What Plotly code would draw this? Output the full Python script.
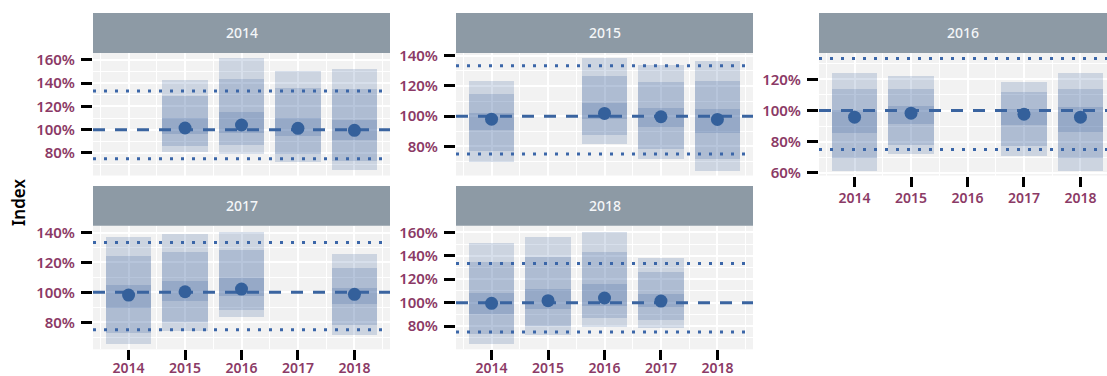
import plotly.graph_objects as go

W, H = 1107, 376

years = [2014, 2015, 2016, 2017, 2018]
facets = ["2014", "2015", "2016", "2017", "2018"]

# per facet, per year (None = the facet's own year, no estimate)
outer_lo = [
    [None, 80.6, 79.4, 72.0, 65.1],
    [69.9, None, 81.5, 71.6, 64.0],
    [61.0, 71.9, None, 70.6, 61.4],
    [65.7, 74.4, 83.7, None, 71.5],
    [64.7, 73.0, 79.5, 78.7, None],
]
outer_hi = [
    [None, 142.9, 161.7, 150.6, 152.3],
    [123.1, None, 138.2, 133.8, 136.3],
    [123.8, 121.9, None, 118.6, 123.8],
    [137.0, 139.0, 140.4, None, 125.6],
    [151.2, 156.0, 160.3, 138.1, None],
]
mid_lo = [
    [None, 86.3, 86.9, 79.4, 73.4],
    [77.1, None, 87.5, 78.2, 71.6],
    [69.4, 78.1, None, 77.3, 69.6],
    [72.8, 80.6, 88.6, None, 78.1],
    [73.3, 80.1, 87.5, 85.2, None],
]
mid_hi = [
    [None, 129.1, 144.0, 136.0, 135.1],
    [114.5, None, 126.4, 122.4, 123.1],
    [114.1, 113.5, None, 111.6, 114.1],
    [124.3, 127.2, 128.8, None, 116.3],
    [135.0, 139.0, 143.5, 126.5, None],
]
inner_lo = [
    [None, 96.6, 97.1, 94.3, 90.9],
    [90.8, None, 97.8, 92.7, 89.0],
    [85.4, 91.4, None, 90.4, 85.9],
    [89.7, 94.4, 98.0, None, 92.2],
    [90.3, 94.9, 97.7, 96.6, None],
]
inner_hi = [
    [None, 109.7, 115.4, 110.3, 108.6],
    [101.8, None, 108.8, 105.5, 104.4],
    [100.6, 102.6, None, 101.1, 102.1],
    [105.1, 107.8, 109.6, None, 103.1],
    [108.5, 111.9, 115.9, 107.4, None],
]
median = [
    [None, 101.4, 104.0, 101.1, 99.4],
    [98.0, None, 101.8, 99.6, 97.8],
    [95.7, 98.3, None, 97.6, 95.7],
    [98.2, 100.4, 102.2, None, 98.7],
    [99.4, 101.7, 104.0, 101.4, None],
]

ref_center = 100
ref_bounds = [75, 133.33]

y_ranges = [[60.5, 166], [60.7, 141.8], [58.3, 136.9], [61.9, 144.6], [60.2, 165.7]]

# layout of the facet grid (pixels)
facet_col = [0, 1, 2, 0, 1]
facet_row = [0, 0, 0, 1, 1]
bottom_facet = [False, False, True, True, True]
col_px = [(93, 390), (456, 753), (819, 1107)]
row_px = [(53, 175.5), (225.7, 349.3)]
strip_px = [(13, 53), (186, 225.7)]
x_ranges = [[2013.37, 2018.63], [2013.37, 2018.63], [2013.37, 2018.47]]

BAND = "rgba(54,96,154,0.2)"
POINT = "#34609b"
LINE = "#3a64a0"
DOT = "#3b66a8"
LABEL = "#8b3a66"
STRIP = "#8d9aa5"
FONT = "Noto Sans"


def px_x(v):
    return v / W


def px_y(v):
    return 1 - v / H


fig = go.Figure()
shapes, annotations = [], []

for i, name in enumerate(facets):
    ax = "" if i == 0 else str(i + 1)
    xr = x_ranges[facet_col[i]]
    # interval bands, widest first
    for lo_set, hi_set in [(outer_lo, outer_hi), (mid_lo, mid_hi), (inner_lo, inner_hi)]:
        xs, base, h = [], [], []
        for j, yr in enumerate(years):
            if lo_set[i][j] is None:
                continue
            xs.append(yr)
            base.append(lo_set[i][j])
            h.append(hi_set[i][j] - lo_set[i][j])
        fig.add_trace(go.Bar(x=xs, y=h, base=base, width=0.8,
                             marker=dict(color=BAND, line=dict(width=0)),
                             xaxis="x" + ax, yaxis="y" + ax, showlegend=False,
                             hoverinfo="skip"))
    # reference lines
    fig.add_trace(go.Scatter(x=xr, y=[ref_center, ref_center], mode="lines",
                             line=dict(color=LINE, width=3, dash="12px,10px"),
                             xaxis="x" + ax, yaxis="y" + ax, showlegend=False,
                             hoverinfo="skip"))
    for b in ref_bounds:
        fig.add_trace(go.Scatter(x=xr, y=[b, b], mode="lines",
                                 line=dict(color=DOT, width=3, dash="3px,8px"),
                                 xaxis="x" + ax, yaxis="y" + ax, showlegend=False,
                                 hoverinfo="skip"))
    # medians
    mx = [yr for j, yr in enumerate(years) if median[i][j] is not None]
    my = [v for v in median[i] if v is not None]
    fig.add_trace(go.Scatter(x=mx, y=my, mode="markers",
                             marker=dict(color=POINT, size=13, line=dict(width=0)),
                             xaxis="x" + ax, yaxis="y" + ax, showlegend=False))

    c0, c1 = col_px[facet_col[i]]
    r0, r1 = row_px[facet_row[i]]
    s0, s1 = strip_px[facet_row[i]]
    show_x = bottom_facet[i]
    fig.layout["xaxis" + ax] = dict(
        domain=[px_x(c0), px_x(c1)], anchor="y" + ax, range=xr, automargin=False,
        tickmode="array", tickvals=years, ticktext=[str(y) for y in years],
        showticklabels=show_x, ticks="outside" if show_x else "",
        ticklen=10, tickwidth=3, tickcolor="black",
        ticklabelstandoff=-4 if facet_row[i] == 1 else 0,
        tickfont=dict(family=FONT, size=14, color=LABEL, weight=600),
        showgrid=True, gridcolor="white", gridwidth=1.8,
        minor=dict(tick0=2013.5, dtick=1, showgrid=True, gridcolor="white", gridwidth=1),
        zeroline=False, showline=False, fixedrange=True,
    )
    fig.layout["yaxis" + ax] = dict(
        domain=[px_y(r1), px_y(r0)], anchor="x" + ax, range=y_ranges[i], automargin=False,
        tick0=0, dtick=20, ticksuffix="%",
        ticks="outside", ticklen=11, tickwidth=3, tickcolor="black",
        ticklabelstandoff=3,
        tickfont=dict(family=FONT, size=15, color=LABEL, weight=600),
        showgrid=True, gridcolor="white", gridwidth=1.8,
        minor=dict(tick0=0, dtick=10, showgrid=True, gridcolor="white", gridwidth=1),
        zeroline=False, showline=False, fixedrange=True,
    )
    shapes.append(dict(type="rect", xref="paper", yref="paper",
                       x0=px_x(c0), x1=px_x(c1), y0=px_y(s1), y1=px_y(s0),
                       fillcolor=STRIP, line=dict(width=0), layer="below"))
    annotations.append(dict(text=name, xref="paper", yref="paper",
                            x=px_x((c0 + min(c1, c0 + 297)) / 2), y=px_y((s0 + s1) / 2),
                            showarrow=False, xanchor="center", yanchor="middle",
                            font=dict(family=FONT, size=14, color="#f4f6f8", weight=500)))

annotations.append(dict(text="Index", xref="paper", yref="paper",
                        x=px_x(18), y=px_y(203), textangle=-90, showarrow=False,
                        xanchor="center", yanchor="middle",
                        font=dict(family=FONT, size=17, color="black", weight=600)))

fig.update_layout(
    width=W, height=H, margin=dict(l=0, r=0, t=0, b=0, autoexpand=False),
    paper_bgcolor="white", plot_bgcolor="#f2f2f2",
    barmode="overlay", bargap=0,
    shapes=shapes, annotations=annotations,
    showlegend=False,
)

fig.write_html("out.html")
